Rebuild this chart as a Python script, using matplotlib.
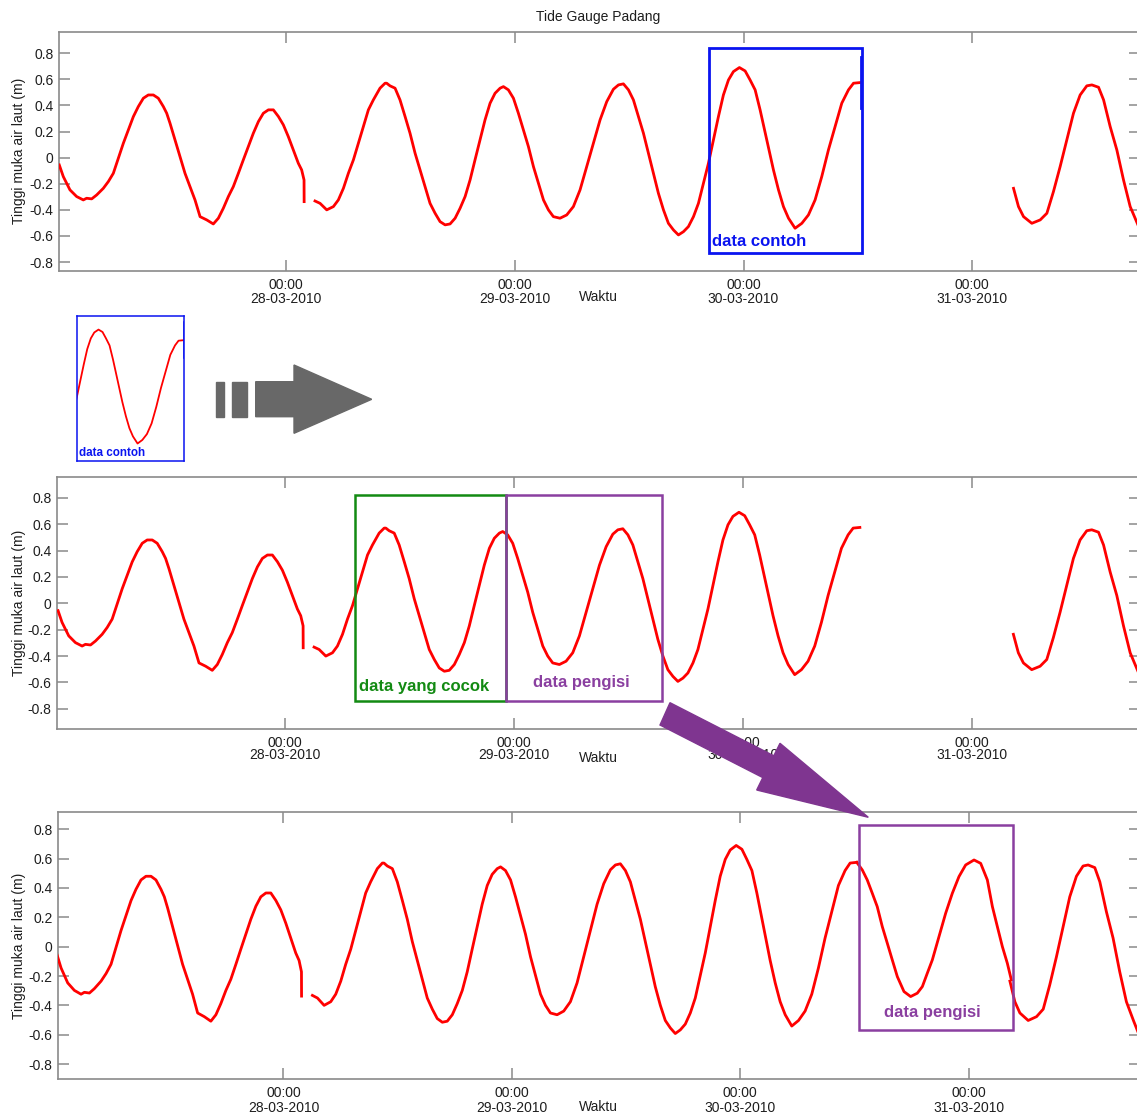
import numpy as np
import matplotlib
matplotlib.use('Agg')
import matplotlib.pyplot as plt
from matplotlib.patches import Rectangle, Polygon

plt.rcParams['font.family'] = ['Liberation Sans', 'DejaVu Sans']
plt.rcParams['axes.unicode_minus'] = False

nan = np.nan

# jam sejak 27-03-2010 00:00, tinggi muka air (m); nan = data kosong
jam = [0.21, 0.63, 0.98, 1.33, 2.03, 2.73, 3.08, 3.61, 4.13, 4.83, 5.36,
       5.88, 6.40, 6.93, 7.45, 7.98, 8.50, 9.03, 9.55, 10.08, 10.60, 11.13,
       11.48, 11.83, 12.35, 12.88, 13.40, 13.93, 14.45, 14.98, 15.68, 16.37,
       16.90, 17.42, 17.95, 18.47, 19.00, 19.52, 20.05, 20.57, 21.10, 21.62,
       22.15, 22.67, 23.20, 23.72, 24.24, 24.77, 25.29, 25.64, 25.89, 25.90,
       nan,
       27.04, 27.57, 28.27, 28.97, 29.49, 30.02, 30.54, 31.07, 31.59, 32.12,
       32.64, 33.16, 33.86, 34.39, 34.56, 34.91, 35.44, 35.96, 36.49, 37.01,
       37.54, 38.06, 38.59, 39.11, 39.64, 40.16, 40.69, 41.21, 41.74, 42.26,
       42.79, 43.31, 43.83, 44.36, 44.88, 45.41, 45.93, 46.46, 46.81, 47.33,
       47.86, 48.38, 48.91, 49.43, 49.96, 50.48, 51.01, 51.53, 52.05, 52.75,
       53.45, 54.15, 54.85, 55.55, 56.25, 56.95, 57.65, 58.35, 58.88, 59.40,
       59.93, 60.45, 60.97, 61.50, 62.02, 62.55, 63.07, 63.60, 64.12, 64.65,
       65.17, 65.70, 66.22, 66.75, 67.27, 67.80, 68.32, 68.85, 69.37, 69.89,
       70.42, 70.94, 71.57, 72.17, 72.69, 73.22, 73.74, 74.44, 75.14, 75.67,
       76.19, 76.72, 77.41, 78.12, 78.81, 79.51, 80.21, 80.91, 81.61, 82.31,
       83.01, 83.54, 84.24, nan,
       100.33, 100.85, 101.38, 102.25, 103.13, 103.83, 104.52, 105.22,
       105.92, 106.62, 107.32, 108.02, 108.55, 109.25, 109.78, 110.47,
       111.17, 111.87, 112.57, 113.31, 113.90]
tinggi = [-0.056, -0.145, -0.196, -0.247, -0.298, -0.324, -0.311, -0.316,
          -0.286, -0.235, -0.183, -0.120, -0.005, 0.110, 0.212, 0.314, 0.391,
          0.455, 0.480, 0.480, 0.455, 0.391, 0.340, 0.263, 0.136, 0.008,
          -0.120, -0.222, -0.324, -0.452, -0.477, -0.508, -0.464, -0.388,
          -0.298, -0.222, -0.120, -0.017, 0.085, 0.187, 0.276, 0.340, 0.366,
          0.366, 0.315, 0.251, 0.161, 0.059, -0.043, -0.094, -0.171, -0.337,
          nan,
          -0.332, -0.350, -0.400, -0.375, -0.324, -0.235, -0.120, -0.017,
          0.110, 0.238, 0.366, 0.442, 0.532, 0.570, 0.570, 0.550, 0.532,
          0.442, 0.315, 0.187, 0.034, -0.094, -0.222, -0.350, -0.426, -0.490,
          -0.515, -0.508, -0.464, -0.388, -0.298, -0.171, -0.017, 0.136,
          0.289, 0.417, 0.493, 0.532, 0.544, 0.519, 0.455, 0.340, 0.212,
          0.085, -0.069, -0.196, -0.324, -0.400, -0.452, -0.464, -0.439,
          -0.375, -0.247, -0.069, 0.110, 0.289, 0.429, 0.524, 0.557, 0.565,
          0.519, 0.442, 0.315, 0.187, 0.034, -0.120, -0.273, -0.400, -0.503,
          -0.554, -0.592, -0.567, -0.528, -0.452, -0.350, -0.196, -0.043,
          0.136, 0.315, 0.480, 0.595, 0.659, 0.690, 0.664, 0.595, 0.519,
          0.366, 0.136, -0.094, -0.247, -0.375, -0.464, -0.541, -0.503,
          -0.439, -0.324, -0.145, 0.059, 0.238, 0.417, 0.519, 0.570, 0.575,
          nan,
          -0.235, -0.375, -0.452, -0.503, -0.477, -0.426, -0.260, -0.069,
          0.136, 0.340, 0.480, 0.550, 0.557, 0.539, 0.442, 0.238, 0.059,
          -0.171, -0.375, -0.503, -0.600]

# data pengisi yang dimasukkan ke celah data (panel bawah)
jam_isi = [84.24, 84.82, 85.34, 85.87, 86.39, 86.92, 87.45, 87.97, 88.50,
           89.20, 89.90, 90.60, 91.13, 91.65, 92.18, 92.88, 93.58, 94.28,
           94.98, 95.68, 96.56, 97.26, 97.96, 98.49, 99.01, 99.54, 100.06,
           100.48]
tinggi_isi = [0.575, 0.523, 0.455, 0.364, 0.273, 0.137, 0.023, -0.090,
              -0.204, -0.306, -0.340, -0.317, -0.272, -0.181, -0.090, 0.069,
              0.228, 0.364, 0.478, 0.557, 0.591, 0.568, 0.455, 0.273, 0.137,
              0.000, -0.113, -0.226]

tick_jam = [24, 48, 72, 96]
tick_tanggal = ['28-03-2010', '29-03-2010', '30-03-2010', '31-03-2010']
y_ticks = [-0.8, -0.6, -0.4, -0.2, 0, 0.2, 0.4, 0.6, 0.8]

# kotak (jam awal, jam akhir, bawah, atas)
kotak_contoh = (68.4, 84.4, -0.73, 0.84)
kotak_cocok = (31.3, 47.2, -0.74, 0.82)
kotak_pengisi = (47.2, 63.5, -0.74, 0.82)
kotak_isi = (84.5, 100.7, -0.57, 0.83)

W, H = 1137, 1115
fig = plt.figure(figsize=(W / 100, H / 100), dpi=100)


def px_rect(l, t, r, b):
    return [l / W, 1 - b / H, (r - l) / W, (b - t) / H]


def fxy(x, y):
    return (x / W, 1 - y / H)


def panel(rect, xlim, ylim, spacing):
    ax = fig.add_axes(rect)
    ax.plot(jam, tinggi, color='red', lw=2.0, zorder=3)
    ax.set_xlim(xlim)
    ax.set_ylim(ylim)
    ax.set_xticks(tick_jam)
    ax.set_xticklabels(['00:00\n' + t for t in tick_tanggal],
                       linespacing=spacing)
    ax.set_yticks(y_ticks)
    ax.set_yticklabels(['%g' % v for v in y_ticks])
    ax.tick_params(direction='in', length=8, width=1.1, color='#8a8a8a',
                   top=True, right=True, labelsize=10, labelcolor='#1e1e1e')
    ax.tick_params(axis='x', pad=5)
    ax.tick_params(axis='y', pad=4)
    for s in ax.spines.values():
        s.set_color('#8a8a8a')
        s.set_linewidth(1.2)
    return ax


def kotak(ax, k, color, lw):
    ax.add_patch(Rectangle((k[0], k[2]), k[1] - k[0], k[3] - k[2],
                           fill=False, edgecolor=color, lw=lw, zorder=4))


biru = '#0a14f0'
hijau = '#138a13'
ungu = '#8a3fa0'

# panel 1
ax1 = panel(px_rect(59, 32.3, 1140, 270.7), (0.18, 113.6), (-0.866, 0.96), 1.05)
kotak(ax1, kotak_contoh, biru, 2.0)
ax1.plot([kotak_contoh[1] - 0.12] * 2, [0.38, 0.77], color=biru, lw=2.0,
         zorder=4)
ax1.text(68.7, -0.64, 'data contoh', color=biru, fontsize=12,
         fontweight='bold', ha='left', va='center', zorder=5)
fig.text(*fxy(598, 17), 'Tide Gauge Padang', ha='center', va='center',
         fontsize=10, color='#1e1e1e')

# panel 2
ax2 = panel(px_rect(57.3, 477.3, 1140, 729.3), (0.13, 113.6), (-0.955, 0.955), 0.8)
kotak(ax2, kotak_cocok, hijau, 1.8)
kotak(ax2, kotak_pengisi, ungu, 1.8)
ax2.text(31.8, -0.63, 'data yang cocok', color=hijau, fontsize=12,
         fontweight='bold', ha='left', va='center', zorder=5)
ax2.text(55.0, -0.60, 'data pengisi', color=ungu, fontsize=12,
         fontweight='bold', ha='center', va='center', zorder=5)

# panel 3
ax3 = panel(px_rect(58.3, 812.3, 1140, 1079.3), (0.34, 114.0), (-0.904, 0.916), 1.05)
ax3.plot(jam_isi, tinggi_isi, color='red', lw=2.0, zorder=3)
kotak(ax3, kotak_isi, ungu, 1.8)
ax3.text(92.2, -0.45, 'data pengisi', color=ungu, fontsize=12,
         fontweight='bold', ha='center', va='center', zorder=5)

for ycen in (151, 603, 946):
    fig.text(*fxy(18.7, ycen), 'Tinggi muka air laut (m)', rotation=90,
             ha='center', va='center', fontsize=10, color='#1e1e1e')
for ywak in (297, 758, 1107):
    fig.text(*fxy(598, ywak), 'Waktu', ha='center', va='center',
             fontsize=10, color='#1e1e1e')

# inset data contoh
axi = fig.add_axes(px_rect(77.3, 315.7, 184.3, 461))
axi.plot(jam, tinggi, color='red', lw=1.3)
axi.plot([kotak_contoh[1] - 0.1] * 2, [0.38, 0.77], color=biru, lw=1.1)
axi.set_xlim(kotak_contoh[0], kotak_contoh[1])
axi.set_ylim(kotak_contoh[2], kotak_contoh[3])
axi.set_xticks([])
axi.set_yticks([])
for s in axi.spines.values():
    s.set_color(biru)
    s.set_linewidth(1.1)
axi.text(0.02, 0.055, 'data contoh', transform=axi.transAxes, color=biru,
         fontsize=8.4, fontweight='bold', ha='left', va='center')

# panah abu-abu
abu = '#686868'
for x0, x1 in ((216, 224), (231.7, 247.3)):
    fig.add_artist(Polygon([fxy(x0, 381.7), fxy(x1, 381.7), fxy(x1, 416.7),
                            fxy(x0, 416.7)], closed=True, color=abu,
                           transform=fig.transFigure, zorder=5))
fig.add_artist(Polygon([fxy(255.7, 381.7), fxy(294, 381.7), fxy(294, 365),
                        fxy(371.7, 399.3), fxy(294, 433.3), fxy(294, 416.7),
                        fxy(255.7, 416.7)], closed=True, color=abu,
                       transform=fig.transFigure, zorder=5))

# panah ungu
fig.add_artist(Polygon([fxy(670, 702.7), fxy(773.8, 755.8), fxy(780, 743.3),
                        fxy(868.3, 817.3), fxy(756.7, 790), fxy(762.8, 777.6),
                        fxy(660, 725)], closed=True, color='#7f3590',
                       transform=fig.transFigure, zorder=6))

fig.savefig('out.png', dpi=100)
